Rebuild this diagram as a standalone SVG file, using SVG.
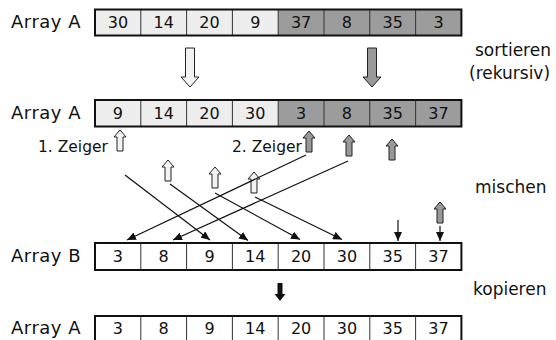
<svg xmlns="http://www.w3.org/2000/svg" xmlns:xlink="http://www.w3.org/1999/xlink" width="556" height="340" viewBox="0 0 556 340">
<style>
.lbl{font-family:"DejaVu Sans",sans-serif;font-size:18px;letter-spacing:0.5px;fill:#111}
.side{font-family:"DejaVu Sans",sans-serif;font-size:17px;fill:#111}
.ptr{font-family:"DejaVu Sans",sans-serif;font-size:15.5px;fill:#111}
.num{font-family:"DejaVu Sans",sans-serif;font-size:16px;fill:#111;text-anchor:middle}
.lt{fill:#ededed}
.dk{fill:#9c9c9c}
.wh{fill:#ffffff}
.frame{fill:none;stroke:#111;stroke-width:2}
.div{stroke:#333;stroke-width:1}
.conn{stroke:#111;stroke-width:1.2;fill:none;marker-end:url(#ah)}
.parrow-l{fill:#f2f2f2;stroke:#222;stroke-width:1}
.parrow-d{fill:#999;stroke:#222;stroke-width:1}
</style>
<defs>
<marker id="ah" markerUnits="userSpaceOnUse" markerWidth="9" markerHeight="8" refX="9" refY="4" orient="auto">
<path d="M0,0 L9,4 L0,8 Z" fill="#111"/>
</marker>
<path id="up" d="M0,0 L6,7 L3,7 L3,21 L-3,21 L-3,7 L-6,7 Z"/>
<path id="bigdown" d="M-4.5,0 L4.5,0 L4.5,29 L9,29 L0,39 L-9,29 L-4.5,29 Z"/>
<path id="cpdown" d="M-2.5,0 L2.5,0 L2.5,11 L5.5,11 L0,18 L-5.5,11 L-2.5,11 Z"/>
</defs>

<g id="row1">
<text class="lbl" x="11" y="28">Array A</text>
<rect class="lt" x="95" y="9.5" width="183.2" height="26"/>
<rect class="dk" x="278.2" y="9.5" width="183.2" height="26"/>
<g class="div">
<line x1="140.8" y1="9.5" x2="140.8" y2="35.5"/><line x1="186.6" y1="9.5" x2="186.6" y2="35.5"/><line x1="232.4" y1="9.5" x2="232.4" y2="35.5"/><line x1="278.2" y1="9.5" x2="278.2" y2="35.5"/><line x1="324" y1="9.5" x2="324" y2="35.5"/><line x1="369.8" y1="9.5" x2="369.8" y2="35.5"/><line x1="415.6" y1="9.5" x2="415.6" y2="35.5"/>
</g>
<rect class="frame" x="95" y="9.5" width="366.4" height="26"/>
<text class="num" x="117.9" y="27.5">30</text><text class="num" x="163.7" y="27.5">14</text><text class="num" x="209.5" y="27.5">20</text><text class="num" x="255.3" y="27.5">9</text><text class="num" x="301.1" y="27.5">37</text><text class="num" x="346.9" y="27.5">8</text><text class="num" x="392.7" y="27.5">35</text><text class="num" x="438.5" y="27.5">3</text>
</g>

<g id="sort-arrows">
<use xlink:href="#bigdown" x="190" y="48" class="parrow-l"/>
<use xlink:href="#bigdown" x="372" y="48" class="parrow-d"/>
</g>

<g id="label-sort">
<text class="side" x="475" y="56">sortieren</text>
<text class="side" x="469" y="79">(rekursiv)</text>
</g>

<g id="row2">
<text class="lbl" x="11" y="118.5">Array A</text>
<rect class="lt" x="95" y="100" width="183.2" height="26.5"/>
<rect class="dk" x="278.2" y="100" width="183.2" height="26.5"/>
<g class="div">
<line x1="140.8" y1="100" x2="140.8" y2="126.5"/><line x1="186.6" y1="100" x2="186.6" y2="126.5"/><line x1="232.4" y1="100" x2="232.4" y2="126.5"/><line x1="278.2" y1="100" x2="278.2" y2="126.5"/><line x1="324" y1="100" x2="324" y2="126.5"/><line x1="369.8" y1="100" x2="369.8" y2="126.5"/><line x1="415.6" y1="100" x2="415.6" y2="126.5"/>
</g>
<rect class="frame" x="95" y="100" width="366.4" height="26.5"/>
<text class="num" x="117.9" y="118.5">9</text><text class="num" x="163.7" y="118.5">14</text><text class="num" x="209.5" y="118.5">20</text><text class="num" x="255.3" y="118.5">30</text><text class="num" x="301.1" y="118.5">3</text><text class="num" x="346.9" y="118.5">8</text><text class="num" x="392.7" y="118.5">35</text><text class="num" x="438.5" y="118.5">37</text>
</g>

<g id="pointers">
<text class="ptr" x="38" y="152">1. Zeiger</text>
<text class="ptr" x="232" y="152">2. Zeiger</text>
<use xlink:href="#up" x="120" y="130" class="parrow-l"/>
<use xlink:href="#up" x="168" y="160" class="parrow-l"/>
<use xlink:href="#up" x="215" y="167" class="parrow-l"/>
<use xlink:href="#up" x="254" y="172" class="parrow-l"/>
<use xlink:href="#up" x="309" y="131" class="parrow-d"/>
<use xlink:href="#up" x="349" y="135" class="parrow-d"/>
<use xlink:href="#up" x="392" y="139" class="parrow-d"/>
<use xlink:href="#up" x="440" y="202" class="parrow-d"/>
</g>

<g id="connectors">
<line class="conn" x1="125" y1="175" x2="210" y2="240"/>
<line class="conn" x1="170" y1="184" x2="248" y2="240.5"/>
<line class="conn" x1="215" y1="193" x2="300" y2="239.5"/>
<line class="conn" x1="255" y1="197" x2="342" y2="239.5"/>
<line class="conn" x1="306" y1="155" x2="127" y2="240"/>
<line class="conn" x1="348" y1="161" x2="173" y2="240"/>
<line class="conn" x1="398" y1="220" x2="398" y2="241"/>
<line class="conn" x1="440" y1="226" x2="440" y2="241"/>
</g>

<g id="label-mischen">
<text class="side" x="475" y="193">mischen</text>
</g>

<g id="rowB">
<text class="lbl" x="11" y="262">Array B</text>
<rect class="wh" x="95" y="243" width="366.4" height="27"/>
<g class="div">
<line x1="140.8" y1="243" x2="140.8" y2="270"/><line x1="186.6" y1="243" x2="186.6" y2="270"/><line x1="232.4" y1="243" x2="232.4" y2="270"/><line x1="278.2" y1="243" x2="278.2" y2="270"/><line x1="324" y1="243" x2="324" y2="270"/><line x1="369.8" y1="243" x2="369.8" y2="270"/><line x1="415.6" y1="243" x2="415.6" y2="270"/>
</g>
<rect class="frame" x="95" y="243" width="366.4" height="27"/>
<text class="num" x="117.9" y="262">3</text><text class="num" x="163.7" y="262">8</text><text class="num" x="209.5" y="262">9</text><text class="num" x="255.3" y="262">14</text><text class="num" x="301.1" y="262">20</text><text class="num" x="346.9" y="262">30</text><text class="num" x="392.7" y="262">35</text><text class="num" x="438.5" y="262">37</text>
</g>

<g id="copy">
<use xlink:href="#cpdown" x="280" y="283" fill="#111"/>
<text class="side" x="473" y="295">kopieren</text>
</g>

<g id="row-final">
<text class="lbl" x="11" y="334">Array A</text>
<rect class="wh" x="95" y="316" width="366.4" height="27"/>
<g class="div">
<line x1="140.8" y1="316" x2="140.8" y2="343"/><line x1="186.6" y1="316" x2="186.6" y2="343"/><line x1="232.4" y1="316" x2="232.4" y2="343"/><line x1="278.2" y1="316" x2="278.2" y2="343"/><line x1="324" y1="316" x2="324" y2="343"/><line x1="369.8" y1="316" x2="369.8" y2="343"/><line x1="415.6" y1="316" x2="415.6" y2="343"/>
</g>
<rect class="frame" x="95" y="316" width="366.4" height="27"/>
<text class="num" x="117.9" y="334">3</text><text class="num" x="163.7" y="334">8</text><text class="num" x="209.5" y="334">9</text><text class="num" x="255.3" y="334">14</text><text class="num" x="301.1" y="334">20</text><text class="num" x="346.9" y="334">30</text><text class="num" x="392.7" y="334">35</text><text class="num" x="438.5" y="334">37</text>
</g>
</svg>
